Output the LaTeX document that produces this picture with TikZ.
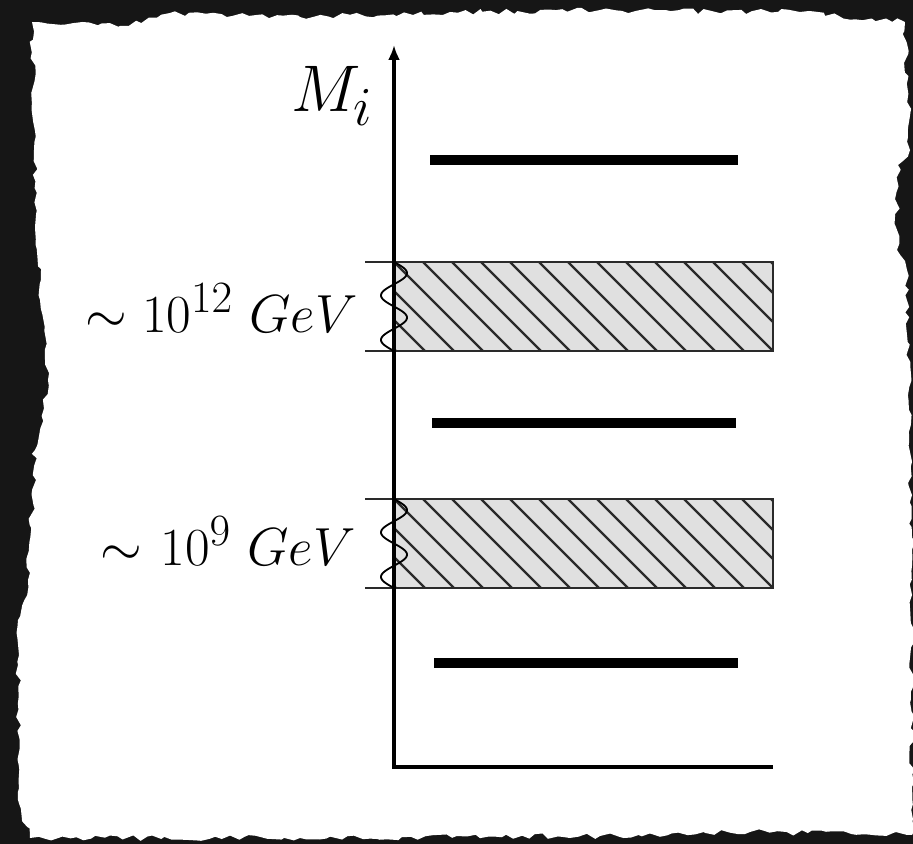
\documentclass[tikz,border=0pt]{standalone}
\usepackage{amsmath}
\usepackage{xcolor}
\usepackage{tikz}
\usetikzlibrary{arrows.meta,decorations.pathmorphing}
\definecolor{PaperEdge}{HTML}{161616}
\definecolor{BandGray}{HTML}{E0E0E0}
\definecolor{HatchGray}{HTML}{2A2A2A}

\begin{document}
\begin{tikzpicture}[x=.03cm,y=-.03cm,
  axisline/.style={line width=.1cm,line join=miter},
  levelbar/.style={line width=.3cm},
  bandbox/.style={fill=BandGray,draw=HatchGray,line width=.065cm},
  hatchline/.style={HatchGray,line width=.065cm},
  scalelabel/.style={font=\Huge,scale=1.84,transform shape,inner sep=0pt}]
\useasboundingbox (0,0) rectangle (913,844);
\fill[PaperEdge] (0,0) rectangle (913,844);
% torn sheet
\pgfmathsetseed{11}
\fill[white,decorate,decoration={random steps,segment length=6pt,amplitude=2.5pt}]
  (32,22)--(120,26)--(170,13)--(300,17)--(450,12)--(600,10)--(800,12)--(905,22)
  --(910,150)--(898,165)--(897,250)--(907,270)--(912,550)--(912,835)--(750,832)
  --(600,836)--(300,838)--(30,838)--(18,800)--(18,620)--(28,580)--(35,450)
  --(48,380)--(40,300)--(34,150)--cycle;
% hatched bands with wiggle on the axis
\foreach \t/\n in {262/hi,499/lo}{
  \draw[bandbox] (394,\t) rectangle (773,\t+89);
  \begin{scope}
    \clip (394,\t) rectangle (773,\t+89);
    \foreach \k in {-4,...,13}
      \draw[hatchline] (394+29*\k,\t)--(394+29*\k+89,\t+89);
  \end{scope}
  \draw[bandbox,fill=none] (394,\t) rectangle (773,\t+89);
  \draw[hatchline] (365,\t)--(394,\t) (365,\t+89)--(394,\t+89);
  \draw[line width=.055cm,domain=0:89,samples=90,smooth]
    plot ({394+13*sin(8.0899*\x)},{\t+\x});
}
% levels
\draw[levelbar] (430,160)--(738,160);
\draw[levelbar] (432,423)--(736,423);
\draw[levelbar] (434,663)--(738,663);
% axes
\coordinate (org) at (394,767);
\coordinate (ytop) at (394,45);
\coordinate (xend) at (773,767);
\draw[axisline,{Latex[length=.45cm,width=.36cm]}-] (ytop)--(org)--(xend);
\node[scalelabel,scale=1.23,anchor=base east] (mass) at (374,112) {$M_i$};
\node[scalelabel,anchor=base east] (scalehi) at (358,332) {$\sim 10^{12}\ GeV$};
\node[scalelabel,anchor=base east] (scalelo) at (356,565) {$\sim\mkern1mu 10^{9}\ GeV$};
\end{tikzpicture}
\end{document}
